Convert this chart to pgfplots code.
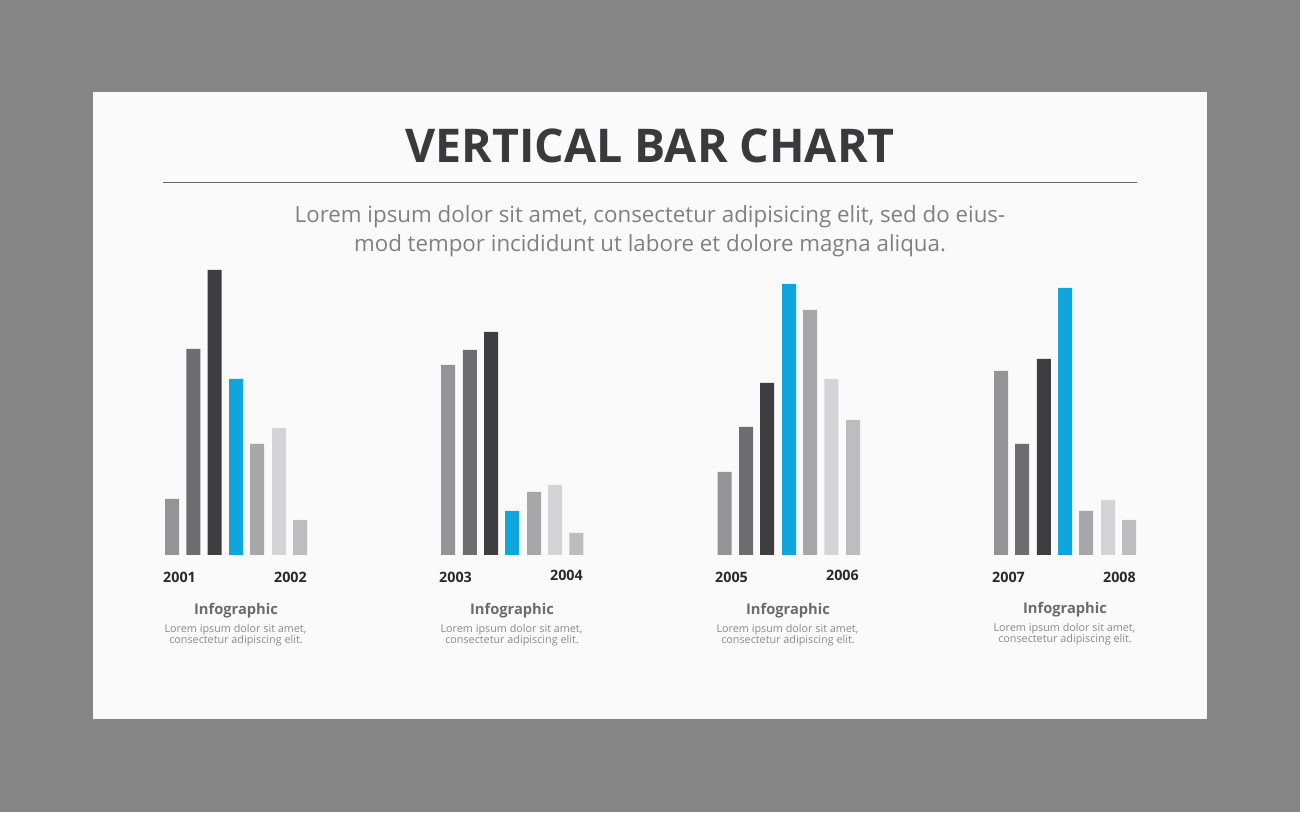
\documentclass[border=0pt]{standalone}
\usepackage{pgfplots}
\pgfplotsset{compat=1.18}
\usepackage{fontspec}
\setmainfont{Open Sans}
\definecolor{bgout}{HTML}{858585}
\definecolor{panel}{HTML}{FAFAFA}
\definecolor{cA}{HTML}{949496}
\definecolor{cB}{HTML}{6E6E71}
\definecolor{cC}{HTML}{3E3E41}
\definecolor{cD}{HTML}{0EA6DD}
\definecolor{cE}{HTML}{A7A7AA}
\definecolor{cF}{HTML}{D4D4D6}
\definecolor{cG}{HTML}{BDBDBF}
\definecolor{titlec}{HTML}{3A3A3C}
\definecolor{subc}{HTML}{808080}
\definecolor{yearc}{HTML}{2A2A2C}
\definecolor{infoc}{HTML}{6C6C6C}
\definecolor{smallc}{HTML}{8A8A8A}
\begin{document}
\begin{tikzpicture}
\fill[bgout] (0,0) rectangle (1300pt,812pt);
\fill[panel] (93pt,93pt) rectangle (1207pt,720pt);
\begin{axis}[
  at={(0,0)}, anchor=south west,
  scale only axis, width=1300pt, height=812pt,
  xmin=0, xmax=1300, ymin=-257, ymax=555,
  hide axis, clip=false,
  ybar, bar width=14pt, bar shift=0pt,
]
\addplot[draw=none, fill=cA] coordinates {(172,56) (448,190) (724.5,83) (1001,184)};
\addplot[draw=none, fill=cB] coordinates {(193.4,206) (469.8,205) (746,128) (1022.2,111)};
\addplot[draw=none, fill=cC] coordinates {(214.6,285) (491,223) (767.2,172) (1043.8,196)};
\addplot[draw=none, fill=cD] coordinates {(236,176) (512.2,44) (789,271) (1065,267)};
\addplot[draw=none, fill=cE] coordinates {(257.2,111) (534,63) (810.2,245) (1086.2,44)};
\addplot[draw=none, fill=cF] coordinates {(279,127) (555.2,70) (831.4,176) (1108,55)};
\addplot[draw=none, fill=cG] coordinates {(300.2,35) (576.4,22) (853,135) (1129.2,35)};
\end{axis}
% title and rule
\node[anchor=base, text=titlec, font=\fontsize{46.5}{50}\selectfont\bfseries, inner sep=0pt] at (650pt,{(812-163)*1pt}) {VERTICAL BAR CHART};
\draw[color=black!60, line width=1pt] (163pt,{(812-183)*1pt}) -- (1137pt,{(812-183)*1pt});
\node[anchor=base, text=subc, font=\fontsize{22.3}{29}\selectfont, inner sep=0pt] at (650pt,{(812-223)*1pt}) {Lorem ipsum dolor sit amet, consectetur adipisicing elit, sed do eius-};
\node[anchor=base, text=subc, font=\fontsize{22.3}{29}\selectfont, inner sep=0pt] at (650pt,{(812-252)*1pt}) {mod tempor incididunt ut labore et dolore magna aliqua.};
% group labels
\foreach \gx/\ya/\yb/\la/\lb/\yo in {165/582/582/2001/2002/0, 441/582/580/2003/2004/0, 717/582/580/2005/2006/0, 994/582/582/2007/2008/-1}{
  \node[anchor=base west, text=yearc, font=\fontsize{14.3}{16}\selectfont\bfseries, inner sep=0pt] at ({(\gx-2)*1pt},{(812-\ya)*1pt}) {\la};
  \node[anchor=base east, text=yearc, font=\fontsize{14.3}{16}\selectfont\bfseries, inner sep=0pt] at ({(\gx+142)*1pt},{(812-\yb)*1pt}) {\lb};
  \node[anchor=base, text=infoc, font=\fontsize{14.7}{16}\selectfont\bfseries, inner sep=0pt] at ({(\gx+71)*1pt},{(812-614-\yo)*1pt}) {Infographic};
  \node[anchor=base, text=smallc, font=\fontsize{10.8}{11}\selectfont, inner sep=0pt] at ({(\gx+70.5)*1pt},{(812-632-\yo)*1pt}) {Lorem ipsum dolor sit amet,};
  \node[anchor=base, text=smallc, font=\fontsize{10.8}{11}\selectfont, inner sep=0pt] at ({(\gx+71)*1pt},{(812-643-\yo)*1pt}) {consectetur adipiscing elit.};
}
\end{tikzpicture}
\end{document}
